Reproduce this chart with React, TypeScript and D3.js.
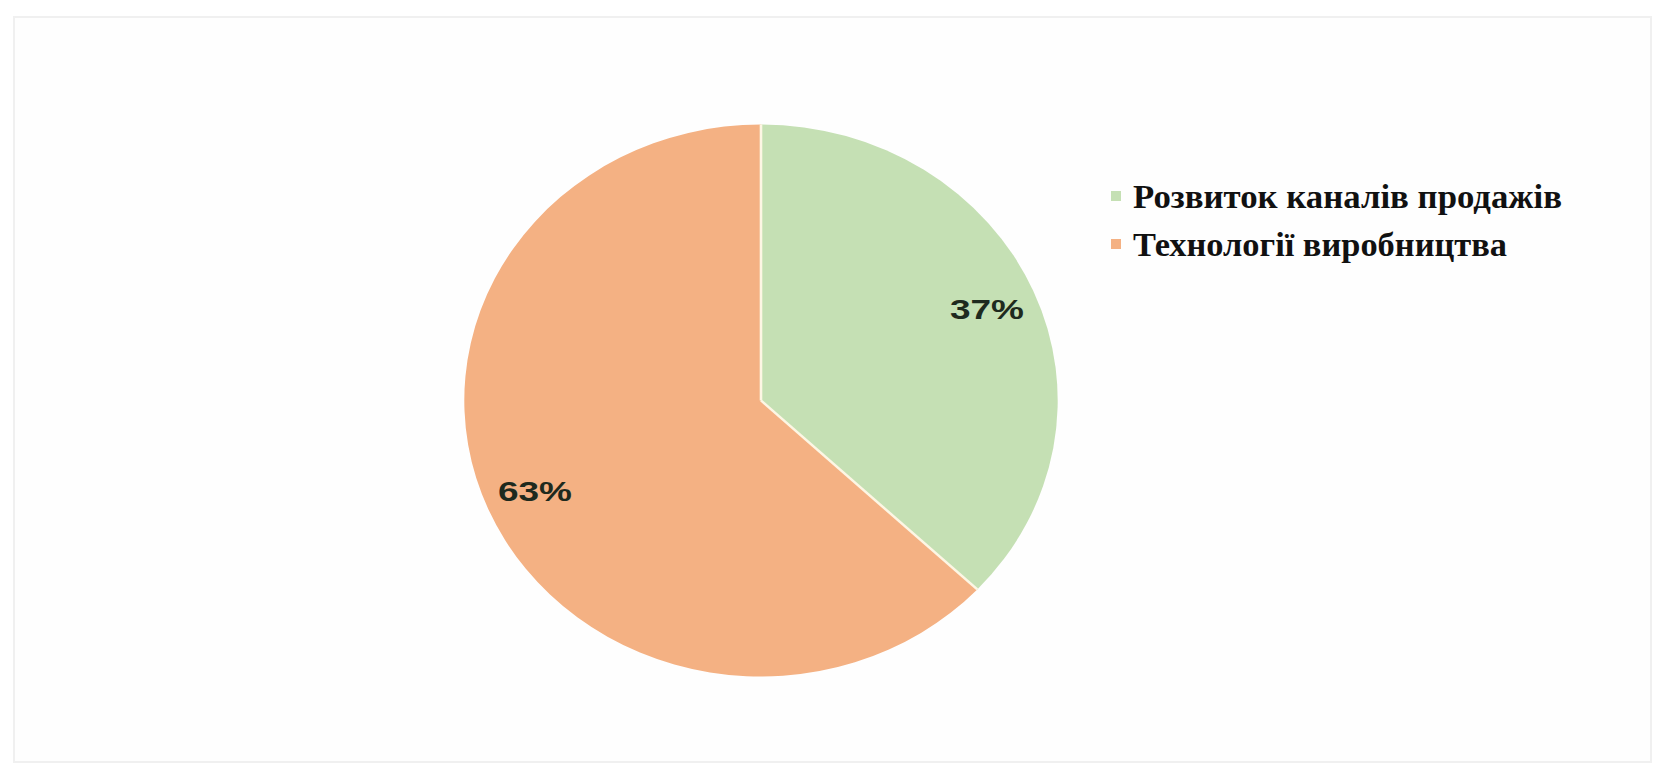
import React from "react";
import * as d3 from "d3";

const categories = ["Розвиток каналів продажів", "Технології виробництва"];
const values = [37, 63];
const colors = ["#C5E0B4", "#F4B183"];
const labelTexts = ["37%", "63%"];

export default function App() {
  const W = 1664, H = 775;
  const cx = 761, cy = 400.5, r = 276, sx = 1.075;
  const pie = d3.pie<number>().sort(null).value((d) => d)(values);
  const arc = d3.arc<d3.PieArcDatum<number>>().innerRadius(0).outerRadius(r);
  const labelArc = d3.arc<d3.PieArcDatum<number>>().innerRadius(r * 0.83).outerRadius(r * 0.83);
  const legendX = 1111, legendY = [196, 244];
  const legendLen = [429, 374];
  return (
    <svg width={W} height={H} style={{ position: "absolute", left: 0, top: 0, background: "#fff" }}>
      <rect x={0} y={0} width={W} height={H} fill="#ffffff" />
      <rect x={14} y={17} width={1637} height={745} fill="#fefefe" stroke="#f0f0f0" strokeWidth={2} />
      <g transform={`translate(${cx},${cy}) scale(${sx},1)`}>
        {pie.map((d, i) => (
          <path key={i} d={arc(d) || ""} fill={colors[i]} />
        ))}
        {pie.map((d, i) => (
          <line key={"l" + i} x1={0} y1={0}
            x2={r * Math.sin(d.startAngle)} y2={-r * Math.cos(d.startAngle)}
            stroke="#fdf6e4" strokeWidth={2.4} />
        ))}
      </g>
      {pie.map((d, i) => {
        const [lx, ly] = labelArc.centroid(d);
        return (
          <text key={i} x={cx + lx * sx} y={cy + ly} textAnchor="middle" dominantBaseline="central"
            fontFamily="Liberation Sans, Arial, sans-serif" fontWeight="bold" fontSize={28}
            fill="#1e2a1e" textLength={74} lengthAdjust="spacingAndGlyphs">
            {labelTexts[i]}
          </text>
        );
      })}
      {categories.map((c, i) => (
        <g key={c}>
          <rect x={legendX} y={legendY[i] - 5} width={10} height={10} fill={colors[i]} />
          <text x={1133} y={legendY[i] + 12} fontFamily="Liberation Serif, Times New Roman, serif" fontWeight="bold"
            fontSize={34} fill="#111" textLength={legendLen[i]} lengthAdjust="spacingAndGlyphs">
            {c}
          </text>
        </g>
      ))}
    </svg>
  );
}
